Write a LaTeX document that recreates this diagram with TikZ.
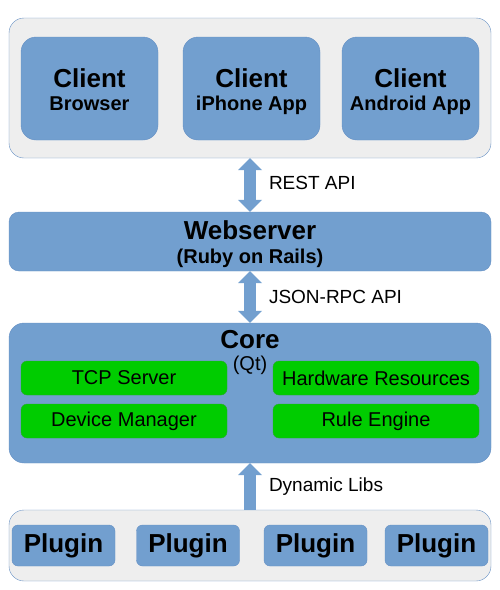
\documentclass[tikz,border=0pt]{standalone}
\usepackage{fontspec}
\setmainfont{Liberation Sans}
\usepackage{tikz}
\usetikzlibrary{arrows.meta}

\definecolor{boxblue}{HTML}{729FCF}
\definecolor{lineblue}{HTML}{6590C4}
\definecolor{panelgray}{HTML}{EEEEEE}
\definecolor{modgreen}{HTML}{00CC00}
\definecolor{linegreen}{HTML}{2EA52E}

\newcommand{\bigbf}{\fontsize{26}{28}\selectfont\bfseries}
\newcommand{\midbf}{\fontsize{20}{24}\selectfont\bfseries}
\newcommand{\midrm}{\fontsize{20}{24}\selectfont}

\tikzset{
    panel/.style={draw=lineblue, fill=panelgray, rounded corners=15pt, minimum width=482pt, inner sep=0pt},
    block/.style={draw=lineblue, fill=boxblue, rounded corners=15pt, align=center, inner sep=0pt},
    client/.style={block, minimum width=137pt, minimum height=103pt, font=\midbf},
    module/.style={draw=linegreen, fill=modgreen, rounded corners=6pt, minimum width=206pt, minimum height=34pt, inner sep=0pt, font=\midrm},
    plugbox/.style={block, rounded corners=6pt, minimum width=103pt, minimum height=41pt, font=\bigbf},
    iface/.style={draw=boxblue, line width=12pt},
    lbl/.style={inner sep=0pt, anchor=west, xshift=13pt, font=\fontsize{19}{22}\selectfont}
}

\begin{document}
\begin{tikzpicture}[x=1pt, y=-1pt]
    \useasboundingbox (0, 0) rectangle (500, 590);

    % clients
    \node[panel, minimum height=140pt] (clients) at (250, 88) {};
    \node[client] (browser) at (89.5, 88.5) {{\bigbf\rule{0pt}{25pt}Client}\\[-1pt]Browser\vphantom{p}};
    \node[client] (iphone) at (251.5, 88.5) {{\bigbf\rule{0pt}{25pt}Client}\\[-1pt]iPhone App};
    \node[client] (android) at (410.5, 88.5) {{\bigbf\rule{0pt}{25pt}Client}\\[-1pt]Android App};

    % webserver
    \node[block, minimum width=482pt, minimum height=59pt, rounded corners=10pt, font=\midbf] (web) at (250, 241.5)
        {{\bigbf\rule{0pt}{25pt}Webserver}\\(Ruby on Rails)};

    % core
    \node[block, minimum width=482pt, minimum height=140pt] (core) at (250, 393) {};
    \node[align=center, inner sep=0pt, font=\midrm] (coretitle) at (250, 352) {{\bigbf Core}\\[-2pt](Qt)};
    \node[module] (tcp) at (124, 378) {TCP Server};
    \node[module] (devices) at (124, 421) {Device Manager};
    \node[module] (hardware) at (376, 378) {Hardware Resources};
    \node[module] (rules) at (376, 421) {Rule Engine};

    % plugins
    \node[panel, minimum height=71pt] (plugins) at (250, 545.5) {};
    \node[plugbox] (plugA) at (63.5, 545.5) {Plugin};
    \node[plugbox] (plugB) at (188, 545.5) {Plugin};
    \node[plugbox] (plugC) at (315.5, 545.5) {Plugin};
    \node[plugbox] (plugD) at (436.5, 545.5) {Plugin};

    % interfaces
    \draw[iface, {Triangle[width=24pt, length=12pt, line width=0pt]}-{Triangle[width=24pt, length=12pt, line width=0pt]}]
        (clients.south) -- node[lbl, yshift=2pt] {REST API} (web.north);
    \draw[iface, {Triangle[width=24pt, length=12pt, line width=0pt]}-{Triangle[width=24pt, length=12pt, line width=0pt]}]
        (web.south) -- node[lbl] {JSON-RPC API} (core.north);
    \draw[iface, -{Triangle[width=24pt, length=12pt, line width=0pt]}]
        (plugins.north) -- node[lbl] {Dynamic Libs} (core.south);
\end{tikzpicture}
\end{document}
